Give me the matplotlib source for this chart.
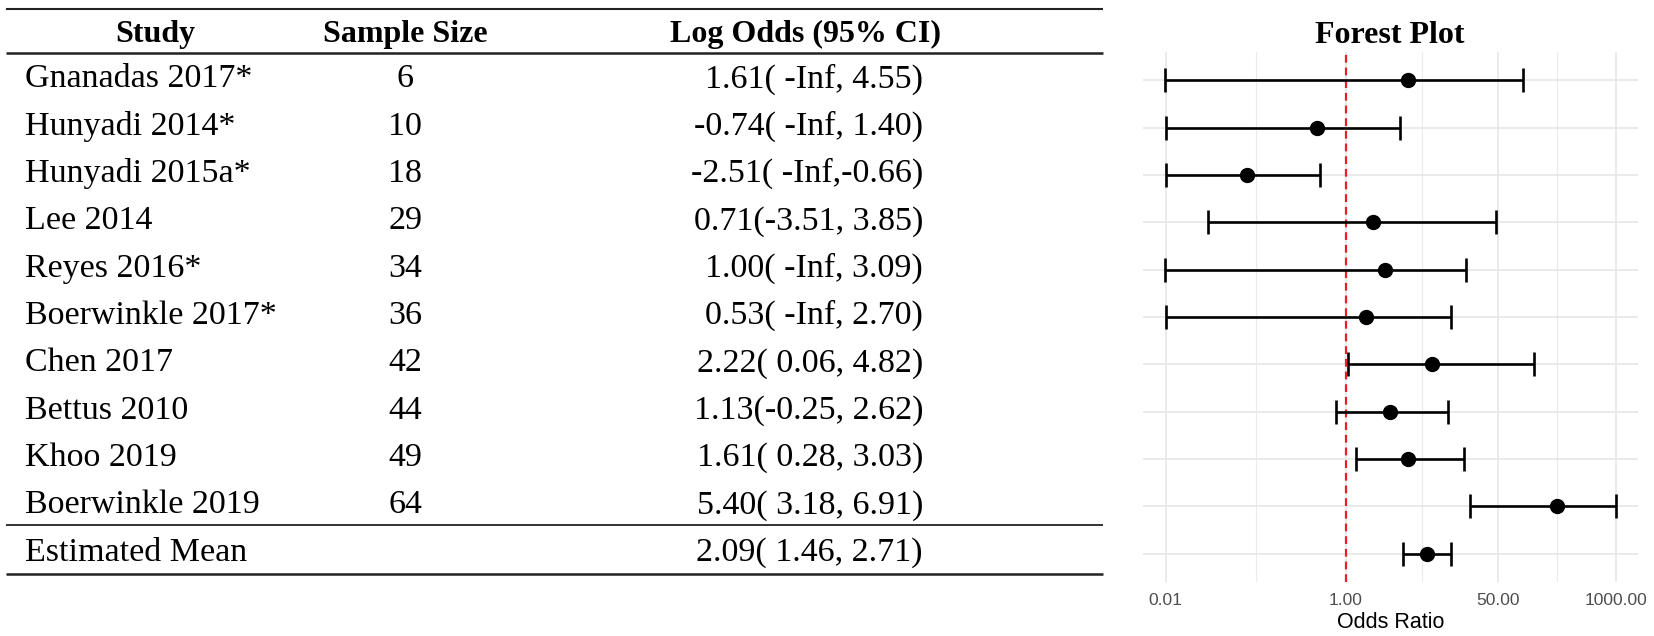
import numpy as np
import matplotlib
matplotlib.use("Agg")
import matplotlib.pyplot as plt
from matplotlib.ticker import FixedLocator, NullFormatter

# table / forest data (log odds scale)
studies = ["Gnanadas 2017*", "Hunyadi 2014*", "Hunyadi 2015a*", "Lee 2014",
           "Reyes 2016*", "Boerwinkle 2017*", "Chen 2017", "Bettus 2010",
           "Khoo 2019", "Boerwinkle 2019", "Estimated Mean"]
sample_sizes = ["6", "10", "18", "29", "34", "36", "42", "44", "49", "64", ""]
log_odds = [1.61, -0.74, -2.51, 0.71, 1.00, 0.53, 2.22, 1.13, 1.61, 5.40, 2.09]
ci_lower = [-np.inf, -np.inf, -np.inf, -3.51, -np.inf, -np.inf, 0.06, -0.25, 0.28, 3.18, 1.46]
ci_upper = [4.55, 1.40, -0.66, 3.85, 3.09, 2.70, 4.82, 2.62, 3.03, 6.91, 2.71]
ci_labels = ["1.61( -Inf, 4.55)", "-0.74( -Inf, 1.40)", "-2.51( -Inf,-0.66)",
             "0.71(-3.51, 3.85)", "1.00( -Inf, 3.09)", "0.53( -Inf, 2.70)",
             "2.22( 0.06, 4.82)", "1.13(-0.25, 2.62)", "1.61( 0.28, 3.03)",
             "5.40( 3.18, 6.91)", "2.09( 1.46, 2.71)"]
x_ticks = [0.01, 1.0, 50.0, 1000.0]
x_tick_labels = ["0.01", "1.00", "50.00", "1000.00"]

W, H = 1654, 636
fig = plt.figure(figsize=(W / 100, H / 100), dpi=100)

# forest panel placement in pixels
p_left, p_right, p_top, p_bottom = 1143, 1638, 52, 582
n = len(studies)
ylo, yhi = 0.4, n + 0.6


def row_px(i):
    return p_top + (i + 1 - ylo) / (yhi - ylo) * (p_bottom - p_top)


# ---- table part (pixel coordinates) ----
tab = fig.add_axes([0, 0, 1, 1])
tab.set_xlim(0, W)
tab.set_ylim(H, 0)
tab.axis("off")

serif = "Liberation Serif"
hdr_base = 42
tab.text(155, hdr_base, "Study", family=serif, weight="bold", fontsize=23, ha="center", va="baseline")
tab.text(405, hdr_base, "Sample Size", family=serif, weight="bold", fontsize=23, ha="center", va="baseline")
tab.text(806, hdr_base, "Log Odds (95% CI)", family=serif, weight="bold", fontsize=23, ha="center", va="baseline")

for i in range(n):
    yb = row_px(i) + 7
    tab.text(25, yb, studies[i], family=serif, fontsize=24.5, ha="left", va="baseline")
    tab.text(405, yb, sample_sizes[i], family=serif, fontsize=24.5, ha="center", va="baseline")
    tab.text(923, yb, ci_labels[i], family=serif, fontsize=24.5, ha="right", va="baseline")

for yl, lw in [(9, 1.5), (53, 1.8), (525, 1.3), (574, 1.8)]:
    tab.plot([6, 1103], [yl, yl], color="#222222", lw=lw, solid_capstyle="butt")

fig.text(1390 / W, 1 - 43 / H, "Forest Plot", family=serif, weight="bold", fontsize=23,
         ha="center", va="baseline")

# ---- forest plot ----
ax = fig.add_axes([p_left / W, 1 - p_bottom / H, (p_right - p_left) / W, (p_bottom - p_top) / H])
ax.set_xscale("log")
ax.set_xlim(10 ** -2.25, 10 ** 3.25)
ax.set_ylim(yhi, ylo)

odds = np.exp(log_odds)
lo = np.maximum(np.exp(ci_lower), 0.01)
hi = np.exp(ci_upper)
rows = np.arange(1, n + 1)

ax.axvline(1.0, color="#EE1C25", lw=1.6, ls=(0, (3.5, 2.2)), zorder=2)
ax.errorbar(odds, rows, xerr=[odds - lo, hi - odds], fmt="o", color="black", ms=10,
            elinewidth=1.9, capsize=8.3, capthick=1.9, zorder=3)

ax.xaxis.set_major_locator(FixedLocator(x_ticks))
ax.set_xticklabels(x_tick_labels)
mids = [np.sqrt(a * b) for a, b in zip(x_ticks[:-1], x_ticks[1:])]
ax.xaxis.set_minor_locator(FixedLocator(mids))
ax.xaxis.set_minor_formatter(NullFormatter())
ax.set_yticks(rows)
ax.set_yticklabels([])

ax.grid(which="major", color="#E6E6E6", lw=1.2)
ax.grid(which="minor", axis="x", color="#EBEBEB", lw=0.8)
ax.set_axisbelow(True)
ax.tick_params(which="both", length=0, pad=8)
for lab in ax.get_xticklabels():
    lab.set_family("Liberation Sans")
    lab.set_fontsize(12.5)
    lab.set_color("#4D4D4D")
for s in ax.spines.values():
    s.set_visible(False)
ax.set_xlabel("Odds Ratio", family="Liberation Sans", fontsize=15.5, labelpad=3)

fig.savefig("out.png", dpi=100)
